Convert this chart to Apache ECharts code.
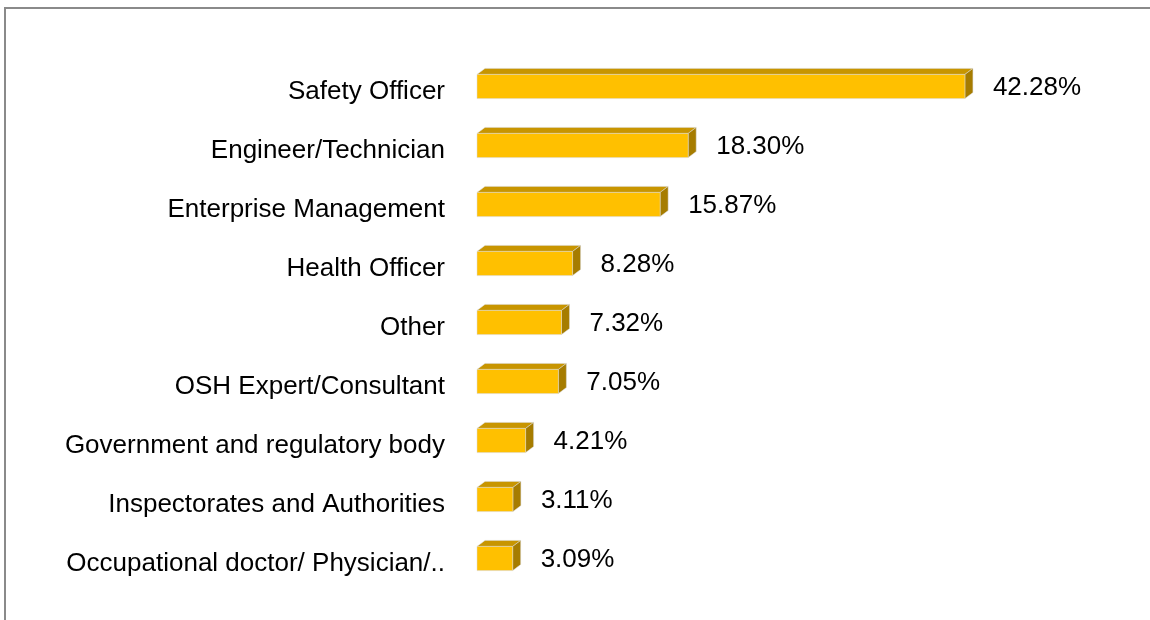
<!DOCTYPE html>
<html>
<head>
<meta charset="utf-8">
<script src="https://cdn.jsdelivr.net/npm/echarts@6/dist/echarts.min.js"></script>
<style>
  html, body { margin: 0; padding: 0; background: #fff; }
  #chart { width: 1150px; height: 620px; }
</style>
</head>
<body>
<div id="chart"></div>
<script>
// categories, top to bottom
var categories = [
  'Safety Officer',
  'Engineer/Technician',
  'Enterprise Management',
  'Health Officer',
  'Other',
  'OSH Expert/Consultant',
  'Government and regulatory body',
  'Inspectorates and Authorities',
  'Occupational doctor/ Physician/..'
];
// share of respondents, %
var shares = [42.28, 18.30, 15.87, 8.28, 7.32, 7.05, 4.21, 3.11, 3.09];

var chart = echarts.init(document.getElementById('chart'));

// depth of the fake 3D box
var dx = 8, dy = 6;

function renderBar (params, api) {
  var idx = api.value(0);
  var val = api.value(1);
  var start = api.coord([0, idx]);
  var end = api.coord([val, idx]);
  var h = api.size([0, 1])[1] * 0.41;
  var x0 = start[0], x1 = end[0];
  var y0 = start[1] - h / 2, y1 = start[1] + h / 2;
  return {
    type: 'group',
    children: [{
      type: 'polygon',
      shape: { points: [[x0, y0], [x0 + dx, y0 - dy], [x1 + dx, y0 - dy], [x1, y0]] },
      style: { fill: '#C89500', stroke: '#d8d8d8', lineWidth: 0.5 }
    }, {
      type: 'polygon',
      shape: { points: [[x1, y0], [x1 + dx, y0 - dy], [x1 + dx, y1 - dy], [x1, y1]] },
      style: { fill: '#A67C00', stroke: '#d8d8d8', lineWidth: 0.5 }
    }, {
      type: 'rect',
      shape: { x: x0, y: y0, width: x1 - x0, height: y1 - y0 },
      style: { fill: '#FFC000', stroke: '#d8d8d8', lineWidth: 0.5 }
    }, {
      type: 'text',
      x: x1 + dx + 20,
      y: start[1] + 1,
      style: {
        text: val.toFixed(2) + '%',
        fill: '#000',
        font: '26px "Liberation Sans", Arial, sans-serif',
        verticalAlign: 'middle'
      }
    }]
  };
}

var option = {
  backgroundColor: '#fff',
  animation: false,
  graphic: [{
    type: 'polyline',
    shape: { points: [[5, 620], [5, 8], [1150, 8]] },
    style: { stroke: '#8a8a8a', lineWidth: 2, fill: null }
  }],
  grid: {
    left: 477,
    right: 96,
    top: 57,
    bottom: 32
  },
  xAxis: {
    type: 'value',
    min: 0,
    max: 50,
    show: false
  },
  yAxis: {
    type: 'category',
    inverse: true,
    data: categories,
    axisLine: { show: false },
    axisTick: { show: false },
    splitLine: { show: false },
    axisLabel: {
      margin: 32,
      formatter: function (v) { return '{lbl|' + v + '}'; },
      rich: {
        lbl: {
          color: '#000',
          fontSize: 26,
          padding: [10, 0, 0, 0],
          fontFamily: '"Liberation Sans", Arial, sans-serif'
        }
      }
    }
  },
  series: [{
    type: 'custom',
    renderItem: renderBar,
    encode: { x: 1, y: 0 },
    data: shares.map(function (v, i) { return [i, v]; })
  }]
};
chart.setOption(option);
</script>
</body>
</html>
